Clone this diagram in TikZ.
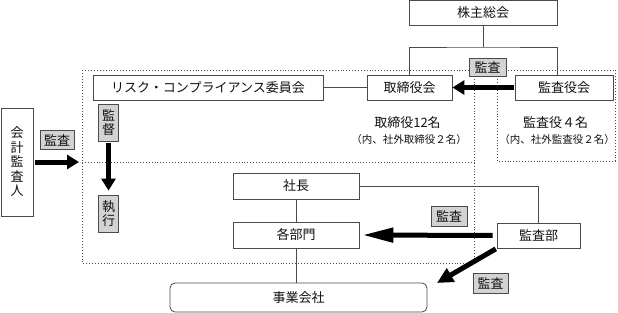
\documentclass[tikz,border=0pt]{standalone}
\usepackage{fontspec}
\setmainfont{Noto Sans CJK JP}
\usetikzlibrary{arrows.meta,positioning}

\begin{document}
\begin{tikzpicture}[x=1pt, y=-1pt, >=Latex, font=\fontsize{13}{14.5}\selectfont]
  \definecolor{ink}{HTML}{111111}
  \definecolor{frame}{HTML}{4A4A4A}
  \definecolor{tagfill}{HTML}{D3D3D3}
  \tikzset{
    box/.style={draw=frame, line width=0.8pt, fill=white, inner sep=0pt, text=ink, minimum height=25pt},
    tag/.style={draw=frame, line width=0.8pt, fill=tagfill, inner sep=0pt, text=ink, align=center},
    region/.style={draw=frame, dotted, line width=0.9pt},
    link/.style={draw=frame, line width=0.7pt},
    bigarrow/.style={line width=5pt, draw=black, -{Triangle[length=12pt, width=14pt]}},
    note/.style={inner sep=0pt, text=ink, font=\fontsize{10.5}{12}\selectfont},
  }
  \useasboundingbox (0,0) rectangle (618,313);
  % dotted areas
  \draw[region] (82,70) rectangle (474,263);
  \draw[region] (82,162) -- (474,162);
  \draw[region] (497,70) rectangle (615,161);
  % boxes
  \node[box, minimum width=148pt] (agm) at (483,13) {株主総会};
  \node[box, minimum width=85pt] (board) at (409.5,87.5) {取締役会};
  \node[box, minimum width=98pt] (auditors) at (564,87.5) {監査役会};
  \node[box, minimum width=230pt] (risk) at (208,87.5) {リスク・コンプライアンス委員会};
  \node[box, minimum width=32pt, minimum height=108pt, align=center] (accountant) at (17,162) {会\\計\\監\\査\\人};
  \node[box, minimum width=126pt, minimum height=26pt] (president) at (296,186) {社長};
  \node[box, minimum width=126pt, minimum height=26pt] (divisions) at (296,235) {各部門};
  \node[box, minimum width=83pt] (auditdept) at (538.5,235.5) {監査部};
  \node[box, minimum width=257pt, minimum height=29pt, rounded corners=5pt] (companies) at (298.5,297.5) {事業会社};
  % headcounts
  \node[inner sep=0pt, text=ink] (boardcount) at (407.5,123) {取締役12名};
  \node[note] (boardnote) at (409,140) {（内、社外取締役２名）};
  \node[inner sep=0pt, text=ink] (auditorcount) at (555.5,123) {監査役４名};
  \node[note] (auditornote) at (557,140) {（内、社外監査役２名）};
  % labels
  \node[tag, minimum width=37pt, minimum height=18pt] (audittop) at (487.5,67) {監査};
  \node[tag, minimum width=34pt, minimum height=19pt] (auditleft) at (57,140) {監査};
  \node[tag, minimum width=20pt, minimum height=37pt] (supervise) at (108.5,122.5) {監\\督};
  \node[tag, minimum width=20pt, minimum height=37pt] (execute) at (108.5,213.5) {執\\行};
  \node[tag, minimum width=36pt, minimum height=20pt] (auditmid) at (449,216) {監査};
  \node[tag, minimum width=35pt, minimum height=20pt] (auditlow) at (490.5,283) {監査};
  % lines
  \coordinate (split) at (483,47);
  \coordinate (auditorsin) at (557,75);
  \coordinate (frameedge) at (80,162);
  \coordinate (companiestip) at (437,283);
  \draw[link] (agm) -- (split);
  \draw[link] (board.north) |- (split) -| (auditorsin);
  \draw[link] (risk) -- (board);
  \draw[link] (president) -- (divisions);
  \draw[link] (divisions.south) -- (divisions.south |- companies.north);
  \draw[link] (president.east) -| (auditdept.north);
  % arrows
  \draw[bigarrow, shorten <=1pt] (auditors.west) -- (board.east);
  \draw[bigarrow, shorten <=2pt, shorten >=1pt] (accountant.east) -- (frameedge);
  \draw[bigarrow, shorten <=2pt, shorten >=4pt] (supervise.south) -- (execute.north);
  \draw[bigarrow, -{Triangle[length=31pt, width=14pt]}, shorten <=4pt, shorten >=3pt] (auditdept.west) -- (divisions.east);
  \draw[bigarrow, -{Triangle[length=16pt, width=15pt]}, shorten <=1pt] (auditdept.south west) -- (companiestip);
\end{tikzpicture}
\end{document}
